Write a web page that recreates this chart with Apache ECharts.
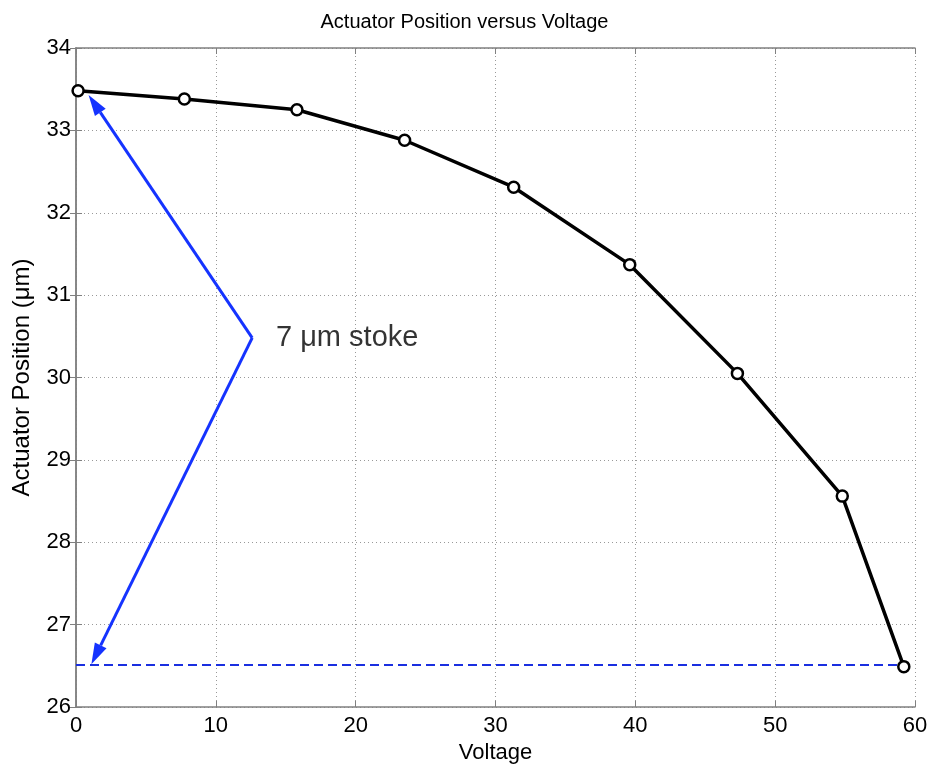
<!DOCTYPE html>
<html>
<head>
<meta charset="utf-8">
<script src="https://cdn.jsdelivr.net/npm/echarts@6/dist/echarts.min.js"></script>
<style>html,body{margin:0;padding:0;background:#fff}#c{width:929px;height:772px}</style>
</head>
<body>
<div id="c"></div>
<script>
const titleText = 'Actuator Position versus Voltage';
const xName = 'Voltage';
const yName = 'Actuator Position (\u03bcm)';
const voltage = [0.15, 7.75, 15.8, 23.5, 31.3, 39.6, 47.3, 54.8, 59.2];
const position = [33.48, 33.38, 33.25, 32.88, 32.31, 31.37, 30.05, 28.56, 26.49];
const strokeLevel = [[0, 26.51], [59.2, 26.51]];
const arrowVertex = [12.6, 30.48];
const arrowTop = [0.9, 33.43];
const arrowBottom = [1.1, 26.52];
const annotationText = '7 \u03bcm stoke';
const annotationPos = [14.3, 30.48];

const arrows = [arrowVertex.concat(arrowTop), arrowVertex.concat(arrowBottom)];
const font = 'Liberation Sans, Arial, sans-serif';
const chart = echarts.init(document.getElementById('c'));
const gridLine = {show: true, lineStyle: {color: '#999', type: [1, 3], width: 1}};
const arrowColor = '#1533ff';
function renderArrow(params, api) {
  const a = api.coord([api.value(0), api.value(1)]);
  const b = api.coord([api.value(2), api.value(3)]);
  const dx = b[0] - a[0], dy = b[1] - a[1];
  const len = Math.sqrt(dx * dx + dy * dy);
  const ux = dx / len, uy = dy / len;
  const hl = 21, hw = 6.5;
  const bx = b[0] - ux * hl, by = b[1] - uy * hl;
  return {
    type: 'group',
    children: [
      {type: 'line', shape: {x1: a[0], y1: a[1], x2: bx, y2: by},
        style: {stroke: arrowColor, lineWidth: 3}},
      {type: 'polygon', shape: {points: [[b[0], b[1]], [bx - uy * hw, by + ux * hw], [bx + uy * hw, by - ux * hw]]},
        style: {fill: arrowColor}}
    ]
  };
}
chart.setOption({
  backgroundColor: '#fff',
  animation: false,
  title: {text: titleText, left: 'center', top: 7, textStyle: {fontFamily: font, fontWeight: 'normal', fontSize: 20, color: '#000'}},
  grid: {left: 76, right: 14, top: 48, bottom: 65, containLabel: false, outerBoundsMode: 'none'},
  xAxis: [{
    type: 'value', min: 0, max: 60, interval: 10,
    name: xName, nameLocation: 'middle', nameGap: 31,
    nameTextStyle: {fontFamily: font, fontSize: 22, color: '#000'},
    axisLine: {show: true, lineStyle: {color: '#808080', width: 1.5}},
    axisTick: {show: true, inside: true, length: 6, lineStyle: {color: '#808080'}},
    axisLabel: {fontFamily: font, fontSize: 22, color: '#000', margin: 8},
    splitLine: gridLine
  }, {
    type: 'value', min: 0, max: 60, interval: 10, position: 'top',
    axisLine: {show: true, lineStyle: {color: '#808080', width: 1.5}},
    axisTick: {show: true, inside: true, length: 6, lineStyle: {color: '#808080'}},
    axisLabel: {show: false}, splitLine: {show: false}
  }],
  yAxis: [{
    type: 'value', min: 26, max: 34, interval: 1,
    name: yName, nameLocation: 'middle', nameGap: 42,
    nameTextStyle: {fontFamily: font, fontSize: 24, color: '#000'},
    axisLine: {show: true, lineStyle: {color: '#808080', width: 1.5}},
    axisTick: {show: true, inside: true, length: 6, lineStyle: {color: '#808080'}},
    axisLabel: {fontFamily: font, fontSize: 22, color: '#000', margin: 5},
    splitLine: gridLine
  }, {
    type: 'value', min: 26, max: 34, interval: 1, position: 'right',
    axisLine: {show: true, lineStyle: {color: '#808080', width: 1.5}},
    axisTick: {show: true, inside: true, length: 6, lineStyle: {color: '#808080'}},
    axisLabel: {show: false}, splitLine: {show: false}
  }],
  series: [
    {
      type: 'line', data: strokeLevel, symbol: 'none',
      lineStyle: {color: '#1a2fe0', width: 2, type: [9, 5]}, z: 2
    },
    {
      type: 'custom', renderItem: renderArrow, data: arrows,
      encode: {x: [0, 2], y: [1, 3]}, silent: true, z: 3
    },
    {
      type: 'line', data: voltage.map((v, i) => [v, position[i]]),
      symbol: 'circle', symbolSize: 11, showAllSymbol: true,
      lineStyle: {color: '#000', width: 3.5},
      itemStyle: {color: '#fff', borderColor: '#000', borderWidth: 2.5}, z: 4
    },
    {
      type: 'scatter', data: [annotationPos], symbolSize: 0,
      label: {show: true, position: 'right', distance: 0, formatter: annotationText,
        fontFamily: font, fontSize: 29, color: '#000'}, z: 5
    }
  ]
});
</script>
</body>
</html>
